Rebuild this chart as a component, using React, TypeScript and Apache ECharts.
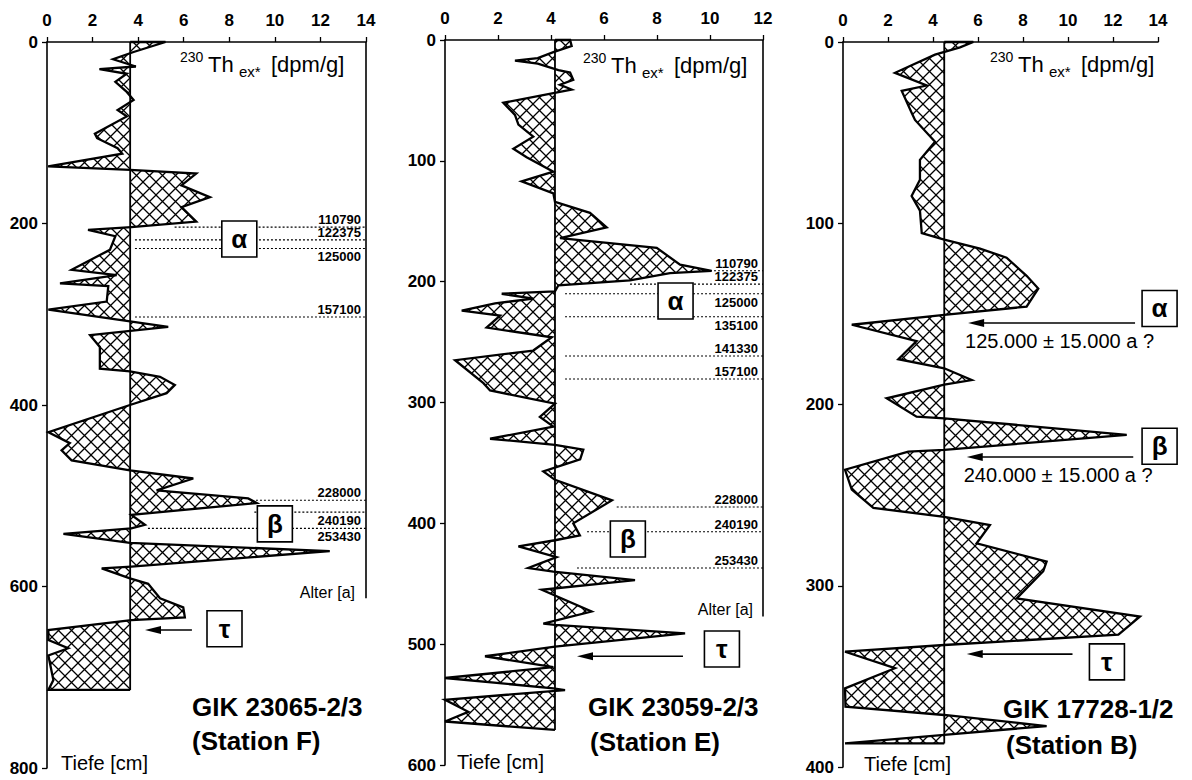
import React, { useEffect, useRef } from 'react';
import * as echarts from 'echarts';

const FONT = '"Liberation Sans", Arial, Helvetica, sans-serif';

// ---------- Station F : GIK 23065-2/3 ----------
const depthF = [0, 11, 19, 27, 30, 35, 44, 55, 64, 75, 82, 101, 106, 117, 123, 137, 141, 145, 158, 171, 182, 198, 204, 207, 214, 229, 251, 257, 266, 269, 286, 295, 314, 323, 336, 360, 363, 369, 378, 387, 400, 430, 442, 450, 461, 472, 481, 494, 503, 508, 521, 532, 536, 542, 552, 561, 578, 580, 591, 597, 613, 623, 634, 637, 648, 659, 668, 676, 703, 714];
const thF = [5.2, 3.8, 2.9, 3.9, 2.3, 3.5, 3.0, 3.5, 3.8, 3.1, 3.5, 2.1, 2.2, 3.1, 3.3, 0.05, 3.65, 6.55, 5.9, 7.15, 5.9, 6.55, 3.7, 1.8, 3.0, 2.76, 1.08, 3.06, 0.57, 2.69, 2.62, 0.06, 5.32, 1.89, 2.32, 2.32, 3.64, 4.96, 5.61, 5.25, 3.64, 0.06, 1.0, 0.64, 1.08, 3.64, 6.42, 4.81, 8.83, 9.2, 3.7, 4.3, 3.7, 0.72, 3.64, 12.41, 3.7, 2.4, 3.64, 4.44, 4.96, 5.98, 6.05, 3.7, 0.06, 0.06, 0.93, 0.06, 0.28, 0.06];
const baseF = 3.65;
const agesF = ['110790', '122375', '125000', '157100', '228000', '240190', '253430'];
const ageDepthF = [204, 218, 227.5, 303, 505, 518, 536];
const ageStartF = [5.6, 3.86, 3.86, 3.86, 9.17, 9.1, 4.43];
const agePosF = ['above', 'above', 'below', 'above', 'above', 'below', 'below'];
const boxLettersF = ['α', 'β', 'τ'];
const boxXF = [8.44, 10.0, 7.79];
const boxDepthF = [217, 531, 646.6];
const arrowFromF = [6.36];
const arrowToF = [4.3];
const arrowDepthF = [648];
const arrowNoteF = [''];
const borderEndF = 613;

// ---------- Station E : GIK 23059-2/3 ----------
const depthE = [0, 5, 10, 15, 17, 19.5, 25, 27, 33, 37, 41, 44, 52, 62, 70, 80, 90, 97, 109, 117, 127, 134, 143, 155, 164, 172, 186, 191, 193, 199, 203, 208, 210, 214, 218, 224, 228, 238, 246, 257, 265, 284, 290, 301, 312, 320, 330, 335, 339, 347, 357, 364, 381, 400, 410, 414, 419, 428, 437, 440, 447, 455, 473, 483, 484, 491, 502, 510, 519, 528, 536.5, 538, 546, 556, 564, 571];
const thE = [4.72, 4.78, 4.09, 3.5, 2.64, 3.5, 4.28, 4.72, 4.84, 4.34, 4.78, 4.09, 2.2, 2.64, 2.77, 3.33, 2.58, 3.08, 4.09, 2.89, 4.09, 4.15, 5.47, 6.1, 4.34, 7.99, 8.87, 10.06, 8.49, 6.98, 4.28, 4.15, 2.14, 3.33, 1.89, 0.63, 2.08, 1.57, 4.03, 3.33, 0.38, 1.45, 1.7, 4.15, 3.58, 4.09, 1.7, 4.15, 5.22, 5.1, 3.71, 4.15, 6.3, 4.84, 5.09, 4.15, 2.77, 4.21, 3.14, 4.09, 7.17, 3.65, 5.53, 3.71, 4.15, 9.06, 4.15, 1.51, 4.09, 0.0, 4.09, 4.53, 0.0, 0.88, 0.0, 4.15];
const baseE = 4.15;
const agesE = ['110790', '122375', '125000', '135100', '141330', '157100', '228000', '240190', '253430'];
const ageDepthE = [191, 202, 210, 229, 261.5, 280.6, 386.5, 407, 437];
const ageStartE = [10.0, 6.98, 4.53, 4.53, 4.53, 4.53, 6.48, 5.36, 4.98];
const agePosE = ['above', 'above', 'below', 'below', 'above', 'above', 'above', 'above', 'above'];
const boxLettersE = ['α', 'β', 'τ'];
const boxXE = [8.7, 6.9, 10.45];
const boxDepthE = [216, 413, 504];
const arrowFromE = [8.98];
const arrowToE = [4.98];
const arrowDepthE = [510];
const arrowNoteE = [''];
const borderEndE = 477;

// ---------- Station B : GIK 17728-1/2 ----------
const depthB = [0, 3, 7, 17, 24, 27, 39, 43, 55, 65, 76, 85, 93, 105.5, 109, 114, 119, 129, 136, 146, 150.6, 156, 165, 175, 180, 186.5, 189, 196.6, 206.7, 207.6, 216.8, 225, 226, 236, 247, 257, 262, 266.5, 276.6, 286.7, 292, 307, 317, 327, 332.7, 336.4, 345.5, 356.6, 366.7, 371.3, 377.4, 382.3, 387];
const thB = [5.79, 5.2, 4.09, 2.31, 3.72, 2.61, 3.05, 3.2, 4.09, 3.42, 3.42, 3.05, 3.42, 3.5, 4.5, 6.09, 7.27, 8.16, 8.68, 8.16, 4.5, 0.39, 3.27, 2.46, 4.5, 5.72, 4.5, 1.94, 3.27, 4.5, 12.61, 4.5, 2.9, 0.09, 0.39, 1.35, 4.5, 6.53, 5.94, 9.05, 8.9, 7.72, 13.2, 12.24, 4.5, 0.09, 2.31, 0.09, 0.11, 4.5, 9.05, 4.5, 0.09];
const baseB = 4.5;
const agesB: string[] = [];
const ageDepthB: number[] = [];
const ageStartB: number[] = [];
const agePosB: string[] = [];
const boxLettersB = ['α', 'β', 'τ'];
const boxXB = [14.07, 14.07, 11.73];
const boxDepthB = [147, 223, 342];
const arrowFromB = [12.98, 12.9, 10.2];
const arrowToB = [5.56, 5.5, 5.5];
const arrowDepthB = [155, 229, 337.7];
const arrowNoteB = ['125.000 ± 15.000 a ?', '240.000 ± 15.000 a ?', ''];

// axes
const xMaxes = [14, 12, 14];
const yMaxes = [800, 600, 400];
const yIntervals = [200, 100, 100];

function makeHatch(s: number): string {
  const c = document.createElement('canvas');
  c.width = s;
  c.height = s;
  const ctx = c.getContext('2d')!;
  ctx.strokeStyle = '#000';
  ctx.lineWidth = 1.3;
  ctx.beginPath();
  ctx.moveTo(-1, -1);
  ctx.lineTo(s + 1, s + 1);
  ctx.moveTo(s + 1, -1);
  ctx.lineTo(-1, s + 1);
  ctx.stroke();
  return c.toDataURL();
}

function txt(x: number, y: number, text: string, font: string, align = 'left', vAlign = 'middle') {
  return {
    type: 'text',
    x,
    y,
    silent: true,
    style: { text, font, fill: '#000', align, textAlign: align, verticalAlign: vAlign, textVerticalAlign: vAlign },
  };
}

function thLabel(left: number, yMid: number) {
  return [
    txt(left, yMid - 7, '230', `14px ${FONT}`),
    txt(left + 28, yMid, 'Th', `22px ${FONT}`),
    txt(left + 59, yMid + 7, 'ex*', `15px ${FONT}`),
    txt(left + 91, yMid, '[dpm/g]', `22px ${FONT}`),
  ];
}

export default function App() {
  const ref = useRef<HTMLDivElement>(null);
  useEffect(() => {
    document.body.style.margin = '0';
    const chart = echarts.init(ref.current!, null, { renderer: 'svg', width: 1192, height: 780 });
    const hs = 13;
    const hatch = { image: makeHatch(hs), repeat: 'repeat', imageWidth: hs, imageHeight: hs };

    const panels = [
      { depth: depthF, th: thF, base: baseF, ages: agesF, ageDepth: ageDepthF, ageStart: ageStartF, agePos: agePosF, boxL: boxLettersF, boxX: boxXF, boxD: boxDepthF, aFrom: arrowFromF, aTo: arrowToF, aD: arrowDepthF, aNote: arrowNoteF, border: borderEndF as number | null },
      { depth: depthE, th: thE, base: baseE, ages: agesE, ageDepth: ageDepthE, ageStart: ageStartE, agePos: agePosE, boxL: boxLettersE, boxX: boxXE, boxD: boxDepthE, aFrom: arrowFromE, aTo: arrowToE, aD: arrowDepthE, aNote: arrowNoteE, border: borderEndE as number | null },
      { depth: depthB, th: thB, base: baseB, ages: agesB, ageDepth: ageDepthB, ageStart: ageStartB, agePos: agePosB, boxL: boxLettersB, boxX: boxXB, boxD: boxDepthB, aFrom: arrowFromB, aTo: arrowToB, aD: arrowDepthB, aNote: arrowNoteB, border: null as number | null },
    ];

    const grids = [
      { left: 47, top: 42, width: 319, height: 726 },
      { left: 445, top: 40, width: 318, height: 725 },
      { left: 843, top: 42, width: 315, height: 725 },
    ];

    const axisLine = { show: true, lineStyle: { color: '#000', width: 1.6 } };
    const axisTick = { show: true, inside: false, length: 5, lineStyle: { color: '#000', width: 1.3 } };

    const xAxis = grids.map((_, i) => ({
      gridIndex: i,
      type: 'value',
      position: 'top',
      min: 0,
      max: xMaxes[i],
      interval: 2,
      axisLine,
      axisTick,
      splitLine: { show: false },
      axisLabel: { color: '#000', fontWeight: 'bold', fontSize: 17, fontFamily: FONT, margin: 13 },
    }));
    const yAxis = grids.map((_, i) => ({
      gridIndex: i,
      type: 'value',
      inverse: true,
      min: 0,
      max: yMaxes[i],
      interval: yIntervals[i],
      axisLine,
      axisTick,
      splitLine: { show: false },
      axisLabel: { color: '#000', fontWeight: 'bold', fontSize: 17, fontFamily: FONT, margin: 9 },
    }));

    const series: any[] = [];
    panels.forEach((p, i) => {
      const xMax = xMaxes[i];
      // hatched profile
      series.push({
        type: 'custom',
        xAxisIndex: i,
        yAxisIndex: i,
        clip: false,
        silent: true,
        data: [[0, 0]],
        renderItem: (_params: any, api: any) => {
          const pts = p.th.map((v, k) => api.coord([v, p.depth[k]]));
          const top = api.coord([p.base, p.depth[0]]);
          const bot = api.coord([p.base, p.depth[p.depth.length - 1]]);
          const poly = [top, ...pts, bot];
          return {
            type: 'group',
            children: [
              { type: 'polygon', shape: { points: poly }, style: { fill: hatch, stroke: null } },
              { type: 'polyline', shape: { points: poly }, style: { stroke: '#000', lineWidth: 2.3, fill: null, lineJoin: 'miter' } },
              { type: 'line', shape: { x1: top[0], y1: top[1], x2: bot[0], y2: bot[1] }, style: { stroke: '#000', lineWidth: 1.8 } },
            ],
          };
        },
      });
      // right border of frame
      if (p.border != null) {
        series.push({
          type: 'line',
          xAxisIndex: i,
          yAxisIndex: i,
          symbol: 'none',
          silent: true,
          data: [[xMax, 0], [xMax, p.border]],
          lineStyle: { color: '#000', width: 1.6 },
        });
      }
      // age lines
      if (p.ages.length) {
        series.push({
          type: 'custom',
          xAxisIndex: i,
          yAxisIndex: i,
          clip: false,
          silent: true,
          data: p.ages.map((_, k) => [p.ageStart[k], p.ageDepth[k]]),
          renderItem: (params: any, api: any) => {
            const k = params.dataIndex;
            const a = api.coord([api.value(0), api.value(1)]);
            const b = api.coord([xMax, api.value(1)]);
            const below = p.agePos[k] === 'below';
            return {
              type: 'group',
              children: [
                { type: 'line', shape: { x1: a[0], y1: a[1], x2: b[0], y2: b[1] }, style: { stroke: '#000', lineWidth: 1.1, lineDash: [2, 2] } },
                {
                  type: 'text',
                  style: {
                    text: p.ages[k],
                    x: b[0] - 5,
                    y: below ? a[1] + 2 : a[1] - 1,
                    font: `bold 13px ${FONT}`,
                    fill: '#000',
                    align: 'right',
                    textAlign: 'right',
                    verticalAlign: below ? 'top' : 'bottom',
                    textVerticalAlign: below ? 'top' : 'bottom',
                  },
                },
              ],
            };
          },
        });
      }
      // arrows
      series.push({
        type: 'custom',
        xAxisIndex: i,
        yAxisIndex: i,
        clip: false,
        silent: true,
        data: p.aFrom.map((f, k) => [f, p.aD[k], p.aTo[k]]),
        renderItem: (params: any, api: any) => {
          const k = params.dataIndex;
          const a = api.coord([api.value(0), api.value(1)]);
          const b = api.coord([api.value(2), api.value(1)]);
          const head = 16;
          const children: any[] = [
            { type: 'line', shape: { x1: a[0], y1: a[1], x2: b[0] + head - 2, y2: b[1] }, style: { stroke: '#000', lineWidth: 1.6 } },
            { type: 'polygon', shape: { points: [[b[0], b[1]], [b[0] + head, b[1] - 4], [b[0] + head, b[1] + 4]] }, style: { fill: '#000' } },
          ];
          if (p.aNote[k]) {
            children.push({
              type: 'text',
              style: { text: p.aNote[k], x: b[0] - 3, y: b[1] + 18, font: `20px ${FONT}`, fill: '#000', align: 'left', textAlign: 'left', verticalAlign: 'middle', textVerticalAlign: 'middle' },
            });
          }
          return { type: 'group', children };
        },
      });
      // letter boxes
      series.push({
        type: 'custom',
        xAxisIndex: i,
        yAxisIndex: i,
        clip: false,
        silent: true,
        data: p.boxX.map((x, k) => [x, p.boxD[k]]),
        renderItem: (params: any, api: any) => {
          const k = params.dataIndex;
          const c = api.coord([api.value(0), api.value(1)]);
          const w = 35, h = 36;
          return {
            type: 'group',
            children: [
              { type: 'rect', shape: { x: c[0] - w / 2, y: c[1] - h / 2, width: w, height: h }, style: { fill: '#fff', stroke: '#000', lineWidth: 1.6 } },
              { type: 'text', style: { text: p.boxL[k], x: c[0], y: c[1], font: `bold 26px ${FONT}`, fill: '#000', align: 'center', textAlign: 'center', verticalAlign: 'middle', textVerticalAlign: 'middle' } },
            ],
          };
        },
      });
    });

    const graphic = [
      ...thLabel(180, 64),
      ...thLabel(583, 65),
      ...thLabel(990, 64),
      txt(355, 592, 'Alter [a]', `16px ${FONT}`, 'right'),
      txt(753, 609, 'Alter [a]', `16px ${FONT}`, 'right'),
      txt(61, 763, 'Tiefe [cm]', `20px ${FONT}`),
      txt(457, 762, 'Tiefe [cm]', `20px ${FONT}`),
      txt(864, 764, 'Tiefe [cm]', `20px ${FONT}`),
      txt(192, 707, 'GIK 23065-2/3', `bold 26px ${FONT}`),
      txt(192, 741, '(Station F)', `bold 26px ${FONT}`),
      txt(588, 707, 'GIK 23059-2/3', `bold 26px ${FONT}`),
      txt(590, 742, '(Station E)', `bold 26px ${FONT}`),
      txt(1003, 709, 'GIK 17728-1/2', `bold 26px ${FONT}`),
      txt(1006, 745, '(Station B)', `bold 26px ${FONT}`),
    ];

    chart.setOption({
      animation: false,
      backgroundColor: '#fff',
      grid: grids,
      xAxis,
      yAxis,
      series,
      graphic,
    });
    return () => chart.dispose();
  }, []);
  return <div ref={ref} style={{ position: 'absolute', left: 0, top: 0, width: 1192, height: 780, background: '#fff' }} />;
}
